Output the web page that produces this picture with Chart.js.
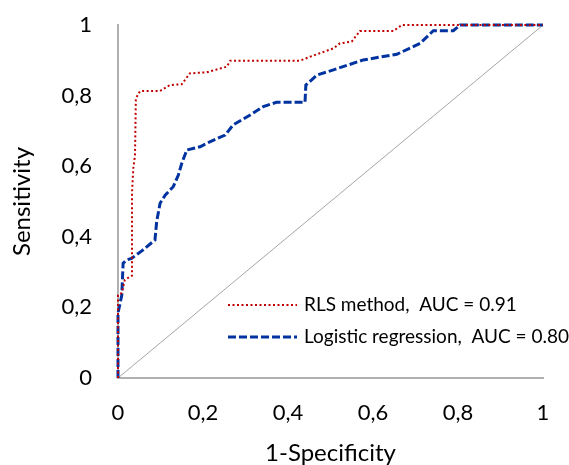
<!DOCTYPE html>
<html>
<head>
<meta charset="utf-8">
<script src="https://cdn.jsdelivr.net/npm/chart.js@4.4.0/dist/chart.umd.min.js"></script>
<style>
  body{margin:0;background:#fff;}
  canvas{display:block;}
</style>
</head>
<body>
<canvas id="roc" width="569" height="465"></canvas>
<script>
// curva ROC: valores
const rlsX = [0, 0, 0.009, 0.016, 0.033, 0.033, 0.036, 0.04, 0.042, 0.052, 0.099, 0.122, 0.15, 0.169, 0.209, 0.256, 0.264, 0.428, 0.452, 0.507, 0.522, 0.55, 0.569, 0.648, 0.668, 1];
const rlsY = [0, 0.235, 0.241, 0.278, 0.29, 0.524, 0.594, 0.632, 0.792, 0.813, 0.813, 0.83, 0.832, 0.863, 0.866, 0.882, 0.899, 0.899, 0.91, 0.934, 0.948, 0.953, 0.983, 0.983, 1, 1];

const logX = [0, 0, 0.009, 0.012, 0.02, 0.032, 0.056, 0.087, 0.091, 0.099, 0.111, 0.13, 0.142, 0.15, 0.162, 0.193, 0.216, 0.252, 0.271, 0.311, 0.342, 0.373, 0.44, 0.442, 0.468, 0.507, 0.577, 0.656, 0.711, 0.742, 0.789, 0.805, 1];
const logY = [0, 0.184, 0.235, 0.325, 0.334, 0.339, 0.36, 0.391, 0.443, 0.495, 0.518, 0.542, 0.575, 0.608, 0.646, 0.655, 0.669, 0.688, 0.717, 0.745, 0.769, 0.781, 0.781, 0.83, 0.858, 0.873, 0.901, 0.917, 0.948, 0.984, 0.984, 1, 1];

const refX = [0, 1];
const refY = [0, 1];

const tickLabels = ['0', '0,2', '0,4', '0,6', '0,8', '1'];
const seriesNames = ['RLS method,  AUC = 0.91', 'Logistic regression,  AUC = 0.80'];

const pts = (xs, ys) => xs.map((x, i) => ({x: x, y: ys[i]}));

// leyenda dentro del area del grafico
const legendInside = {
  id: 'legendInside',
  afterDraw(chart){
    const ctx = chart.ctx;
    const rows = [305, 337];
    ctx.save();
    ctx.font = '19px Lato';
    ctx.textBaseline = 'middle';
    ctx.fillStyle = '#000';
    [0, 1].forEach(i => {
      const ds = chart.data.datasets[i];
      ctx.beginPath();
      ctx.strokeStyle = ds.borderColor;
      ctx.lineWidth = ds.borderWidth;
      ctx.setLineDash(ds.borderDash);
      ctx.moveTo(228, rows[i]);
      ctx.lineTo(297, rows[i]);
      ctx.stroke();
      ctx.setLineDash([]);
      ctx.fillText(ds.label, 304, rows[i]);
    });
    ctx.restore();
  }
};

new Chart(document.getElementById('roc').getContext('2d'), {
  type: 'scatter',
  data: {
    datasets: [
      { label: seriesNames[0], data: pts(rlsX, rlsY), showLine: true, borderColor: '#c00000', borderWidth: 2, borderDash: [2, 2.5], pointRadius: 0, clip: 5 },
      { label: seriesNames[1], data: pts(logX, logY), showLine: true, borderColor: '#0033a0', borderWidth: 3, borderDash: [8, 3], pointRadius: 0, clip: 5 },
      { label: 'ref', data: pts(refX, refY), showLine: true, borderColor: '#a6a6a6', borderWidth: 1, pointRadius: 0 }
    ]
  },
  options: {
    responsive: false,
    animation: false,
    layout: { padding: { top: 25, right: 26, left: 0, bottom: 0 } },
    plugins: { legend: { display: false }, tooltip: { enabled: false } },
    scales: {
      x: {
        type: 'linear', min: 0, max: 1,
        afterFit: s => { s.height = 87; s.paddingLeft = 0; s.paddingRight = 0; },
        grid: { display: false, drawTicks: false },
        border: { display: true, color: '#b0b0b0', width: 2 },
        ticks: { stepSize: 0.2, padding: 22, color: '#000', font: { family: 'Lato', size: 22 }, callback: (v, i) => tickLabels[i] },
        title: { display: true, text: '1-Specificity', color: '#000', font: { family: 'Lato', size: 24, lineHeight: 1 }, padding: { top: 0, bottom: 0 } }
      },
      y: {
        type: 'linear', min: 0, max: 1,
        afterFit: s => { s.width = 118; s.paddingTop = 0; s.paddingBottom = 0; },
        grid: { display: false, drawTicks: false },
        border: { display: true, color: '#b0b0b0', width: 2 },
        ticks: { stepSize: 0.2, padding: 26, color: '#000', font: { family: 'Lato', size: 22 }, callback: (v, i) => tickLabels[i] },
        title: { display: true, text: 'Sensitivity', color: '#000', font: { family: 'Lato', size: 24, lineHeight: 1 }, padding: { top: 10, bottom: 0 } }
      }
    }
  },
  plugins: [legendInside]
});
</script>
</body>
</html>
